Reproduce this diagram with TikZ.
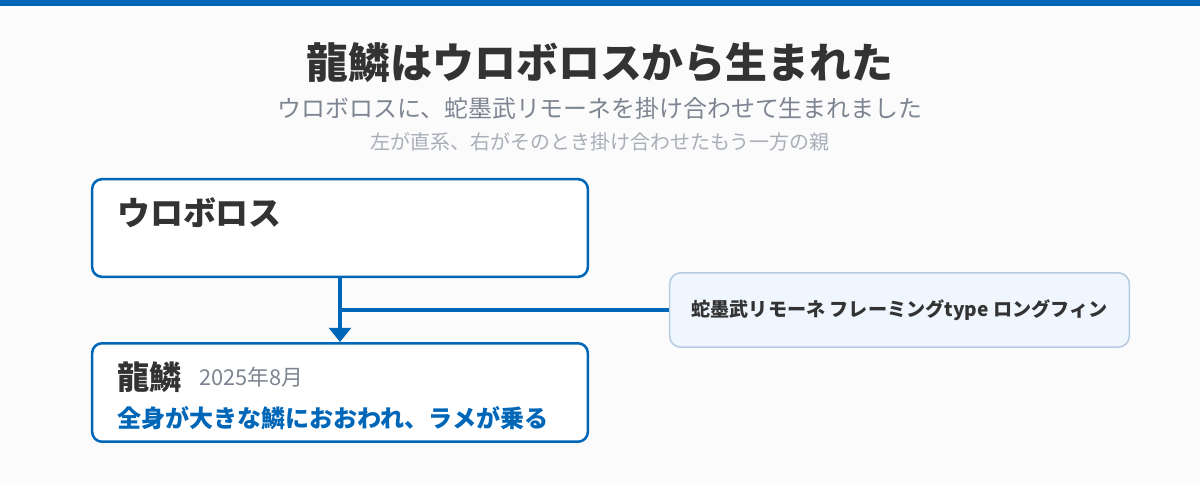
\documentclass[tikz,border=0pt]{standalone}
\usepackage{fontspec}
\setmainfont{Noto Sans CJK JP}
\usetikzlibrary{arrows.meta,positioning}
\definecolor{lineblue}{HTML}{0067B8}
\definecolor{inkdark}{HTML}{333333}
\definecolor{subgray}{HTML}{7E8592}
\definecolor{notegray}{HTML}{A8AEB8}
\definecolor{matefill}{HTML}{EFF6FD}
\definecolor{mateedge}{HTML}{B7CCE0}
\definecolor{pagebg}{HTML}{FBFBFB}
\tikzset{
	famcard/.style={draw=lineblue, line width=1.8pt, fill=white, rounded corners=7pt, minimum width=12.39cm},
	matecard/.style={draw=mateedge, line width=1.1pt, fill=matefill, rounded corners=8pt, minimum width=11.49cm, minimum height=1.86cm},
	leftlabel/.style={anchor=west, inner sep=0pt},
}
\begin{document}
\begin{tikzpicture}[x=0.025cm, y=-0.025cm]
	\useasboundingbox (0,0) rectangle (1200,484);
	\fill [pagebg] (0,0) rectangle (1200,484);
	\fill [lineblue] (0,0) rectangle (1200,6);
	
	\node (title) at (600,63) {\fontsize{29.8pt}{35pt}\selectfont\bfseries\color{inkdark}龍鱗はウロボロスから生まれた};
	\node (subtitle) at (600,108) {\fontsize{17pt}{20pt}\selectfont\color{subgray}ウロボロスに、蛇墨武リモーネを掛け合わせて生まれました};
	\node (note) at (600,142) {\fontsize{14.2pt}{17pt}\selectfont\color{notegray}左が直系、右がそのとき掛け合わせたもう一方の親};
	
	\node [famcard, minimum height=2.44cm] (parent) at (340,228) {};
	\node [leftlabel] (parentname) at (117,213) {\fontsize{23.4pt}{27pt}\selectfont\bfseries\color{inkdark}ウロボロス};
	
	\node [famcard, minimum height=2.46cm] (child) at (340,392.5) {};
	\node [leftlabel] (childname) at (117,377) {\fontsize{23pt}{27pt}\selectfont\bfseries\color{inkdark}龍鱗};
	\node [leftlabel, right=12pt of childname.east, anchor=west] (childdate) {\fontsize{15.5pt}{18pt}\selectfont\color{subgray}2025年8月};
	\node [leftlabel] (childtrait) at (117,418) {\fontsize{17.1pt}{20pt}\selectfont\bfseries\color{lineblue}全身が大きな鱗におおわれ、ラメが乗る};
	
	\node [matecard] (mate) at (899.5,310) {\fontsize{13.6pt}{16pt}\selectfont\bfseries\color{inkdark}蛇墨武リモーネ フレーミングtype ロングフィン};
	
	\draw [lineblue, line width=2.2pt, -{Triangle[width=15.5pt, length=10pt]}] (parent.south) -- (child.north);
	\draw [lineblue, line width=2.2pt] (mate.west) -- (mate.west -| parent.south);
\end{tikzpicture}
\end{document}
